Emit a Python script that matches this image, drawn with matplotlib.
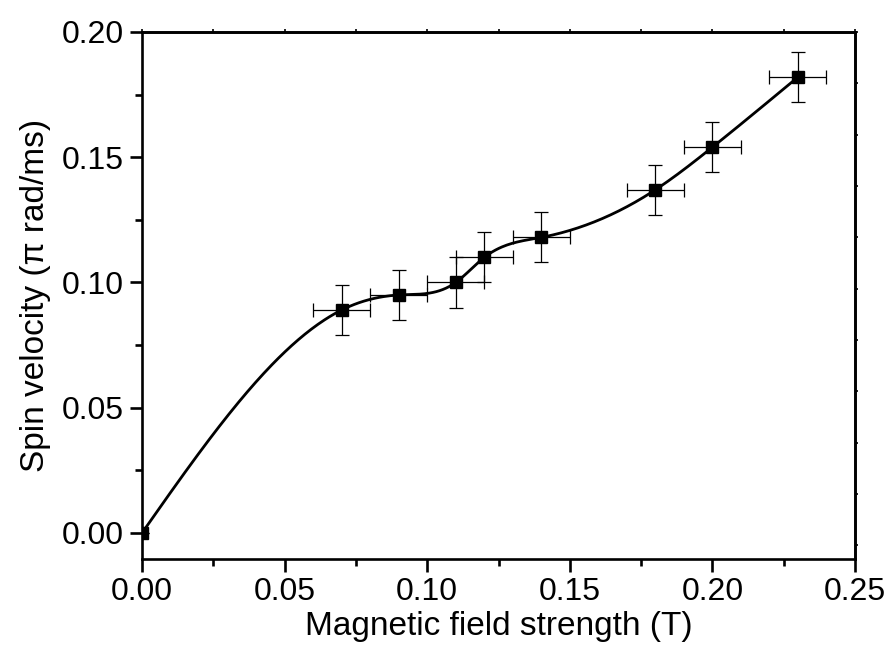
"""Spin velocity versus magnetic field strength, with a spline through the points"""

import matplotlib
matplotlib.use("Agg")
import matplotlib.pyplot as plt
import numpy as np

plt.rcParams['font.family'] = ['Liberation Sans', 'DejaVu Sans']

# Measured data
field = [0.00, 0.07, 0.09, 0.11, 0.12, 0.14, 0.18, 0.20, 0.23]
velocity = [0.000, 0.089, 0.095, 0.100, 0.110, 0.118, 0.137, 0.154, 0.182]
field_err = [0.00, 0.01, 0.01, 0.01, 0.01, 0.01, 0.01, 0.01, 0.01]
velocity_err = [0.00, 0.01, 0.01, 0.01, 0.01, 0.01, 0.01, 0.01, 0.01]


def natural_spline(x, y, n=400):
    """Natural cubic spline through (x, y), evaluated on n points"""
    x = np.asarray(x, float)
    y = np.asarray(y, float)
    m = len(x)
    h = np.diff(x)
    A = np.zeros((m, m))
    b = np.zeros(m)
    A[0, 0] = 1
    A[-1, -1] = 1
    for i in range(1, m - 1):
        A[i, i - 1] = h[i - 1]
        A[i, i] = 2 * (h[i - 1] + h[i])
        A[i, i + 1] = h[i]
        b[i] = 6 * ((y[i + 1] - y[i]) / h[i] - (y[i] - y[i - 1]) / h[i - 1])
    M = np.linalg.solve(A, b)
    xs = np.linspace(x[0], x[-1], n)
    idx = np.clip(np.searchsorted(x, xs) - 1, 0, m - 2)
    x0, x1 = x[idx], x[idx + 1]
    hh = x1 - x0
    t0 = x1 - xs
    t1 = xs - x0
    ys = (M[idx] * t0**3 + M[idx + 1] * t1**3) / (6 * hh) \
        + (y[idx] / hh - M[idx] * hh / 6) * t0 \
        + (y[idx + 1] / hh - M[idx + 1] * hh / 6) * t1
    return xs, ys


fig = plt.figure(figsize=(8.95, 6.57), dpi=100)
ax = fig.add_axes([0.1587, 0.1492, 0.7966, 0.8021])

# Smooth curve
xs, ys = natural_spline(field, velocity)
ax.plot(xs, ys, color="black", lw=2.0, zorder=2)

# Points with error bars
ax.errorbar(field, velocity, xerr=field_err, yerr=velocity_err, fmt="s",
            color="black", ms=8, ecolor="black", elinewidth=0.9,
            capsize=5, capthick=0.9, zorder=3)

ax.set_xlim(0, 0.25)
ax.set_ylim(-0.0104, 0.20)
ax.set_xticks(np.arange(0, 0.2501, 0.05))
ax.set_xticks(np.arange(0.025, 0.25, 0.05), minor=True)
ax.set_yticks(np.arange(0, 0.2001, 0.05))
ax.set_yticks(np.arange(0.025, 0.20, 0.05), minor=True)
ax.xaxis.set_major_formatter(matplotlib.ticker.FormatStrFormatter("%.2f"))
ax.yaxis.set_major_formatter(matplotlib.ticker.FormatStrFormatter("%.2f"))

for s in ax.spines.values():
    s.set_linewidth(1.9)

ax.tick_params(which="major", direction="out", length=9, width=1.9,
               labelsize=23, pad=4)
ax.tick_params(which="minor", direction="out", length=5, width=1.9)

# Opposite axes with tiny ticks
top = ax.secondary_xaxis("top")
top.set_xticks(np.arange(0, 0.2501, 0.025))
top.tick_params(direction="out", length=2, width=1.2, labeltop=False)
top.spines["top"].set_linewidth(1.9)
right = ax.secondary_yaxis("right")
right.set_yticks(0.20 - 0.0205 * np.arange(0, 11))
right.tick_params(direction="out", length=2, width=1.2, labelright=False)
right.spines["right"].set_linewidth(1.9)

ax.set_xlabel("Magnetic field strength (T)", fontsize=24, labelpad=3)
ax.set_ylabel("Spin velocity (π rad/ms)", fontsize=24, labelpad=8)

fig.savefig("out.png", dpi=100)
